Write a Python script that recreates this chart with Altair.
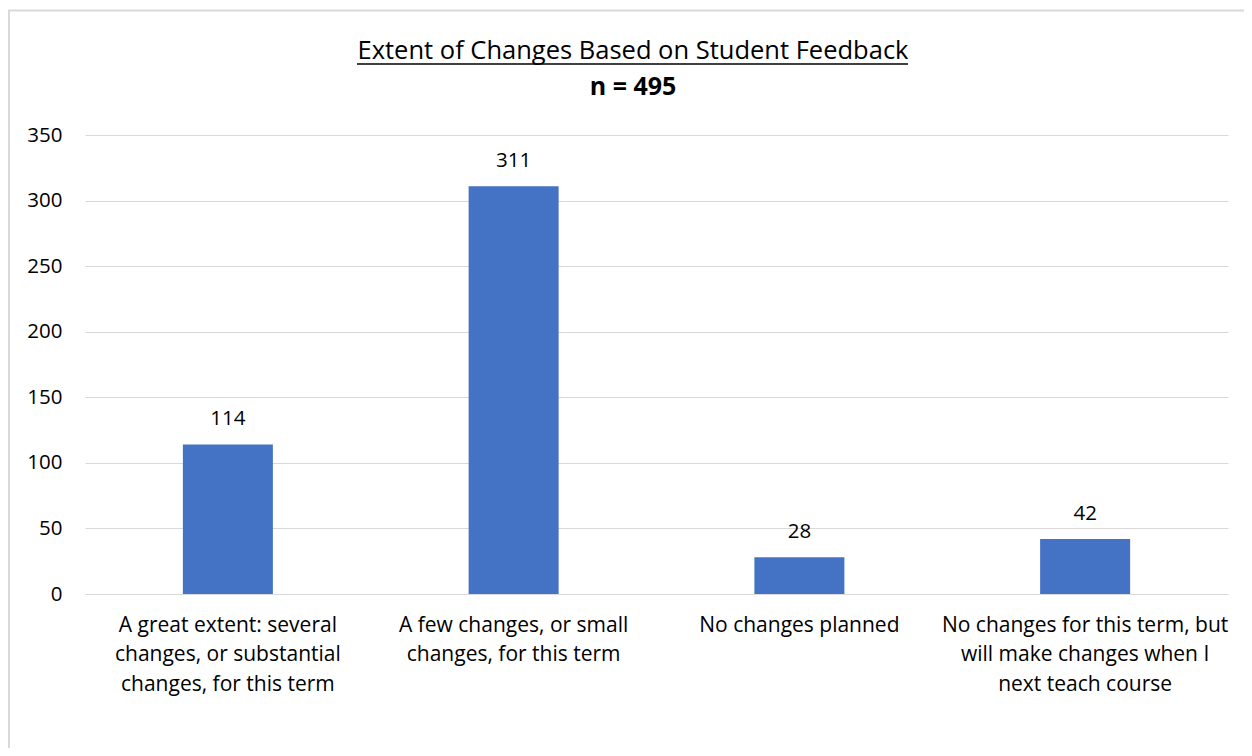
import altair as alt
import pandas as pd

FONT = "Open Sans"

categories = [
    "A great extent: several|changes, or substantial|changes, for this term",
    "A few changes, or small|changes, for this term",
    "No changes planned",
    "No changes for this term, but|will make changes when I|next teach course",
]
counts = [114, 311, 28, 42]
y_ticks = [0, 50, 100, 150, 200, 250, 300, 350]
title_text = "Extent of Changes Based on Student Feedback"
subtitle_text = "n = 495"

df = pd.DataFrame({"label": categories, "count": counts})
one = pd.DataFrame({"a": [0]})

base = alt.Chart(df).encode(
    x=alt.X(
        "label:N",
        sort=None,
        title=None,
        scale=alt.Scale(paddingInner=0, paddingOuter=0),
        axis=alt.Axis(
            labelExpr="split(datum.label, '|')",
            labelAngle=0,
            labelFontSize=21,
            labelFont=FONT,
            labelColor="#000000",
            labelLineHeight=29.5,
            labelPadding=20,
            labelLimit=400,
            ticks=False,
            domainColor="#d9d9d9",
            domainWidth=1,
        ),
    ),
    y=alt.Y(
        "count:Q",
        title=None,
        scale=alt.Scale(domain=[0, 350]),
        axis=alt.Axis(
            values=y_ticks,
            labelFontSize=20.5,
            labelFont=FONT,
            labelColor="#000000",
            labelPadding=23,
            ticks=False,
            domain=False,
            gridColor="#d9d9d9",
            gridWidth=1,
        ),
    ),
)

bars = base.mark_bar(size=90, color="#4472C4")
labels = base.mark_text(
    dy=-15, baseline="bottom", fontSize=20.5, font=FONT, color="#000000"
).encode(text="count:Q")

border_top = alt.Chart(one).mark_rule(color="#d9d9d9", strokeWidth=2).encode(
    x=alt.value(-77), x2=alt.value(1159), y=alt.value(-124.5)
)
border_left = alt.Chart(one).mark_rule(color="#d9d9d9", strokeWidth=2).encode(
    x=alt.value(-76), y=alt.value(-125), y2=alt.value(613)
)

title_mark = alt.Chart(one).mark_text(
    text=title_text, font=FONT, fontSize=25.5, color="#000000",
    align="center", baseline="alphabetic",
).encode(x=alt.value(548), y=alt.value(-76))

subtitle_mark = alt.Chart(one).mark_text(
    text=subtitle_text, font=FONT, fontSize=25, fontWeight="bold",
    color="#000000", align="center", baseline="alphabetic",
).encode(x=alt.value(548), y=alt.value(-40))

underline = alt.Chart(one).mark_rule(color="#000000", strokeWidth=1.5).encode(
    x=alt.value(272), x2=alt.value(823), y=alt.value(-71)
)

chart = (
    alt.layer(border_top, border_left, bars, labels, title_mark, subtitle_mark, underline)
    .properties(
        width=1143,
        height=459,
        autosize="none",
        padding={"left": 77, "top": 127, "right": 16, "bottom": 154},
    )
    .configure_view(stroke=None)
)

chart.save("out.html", embed_options={"renderer": "svg", "actions": False})
